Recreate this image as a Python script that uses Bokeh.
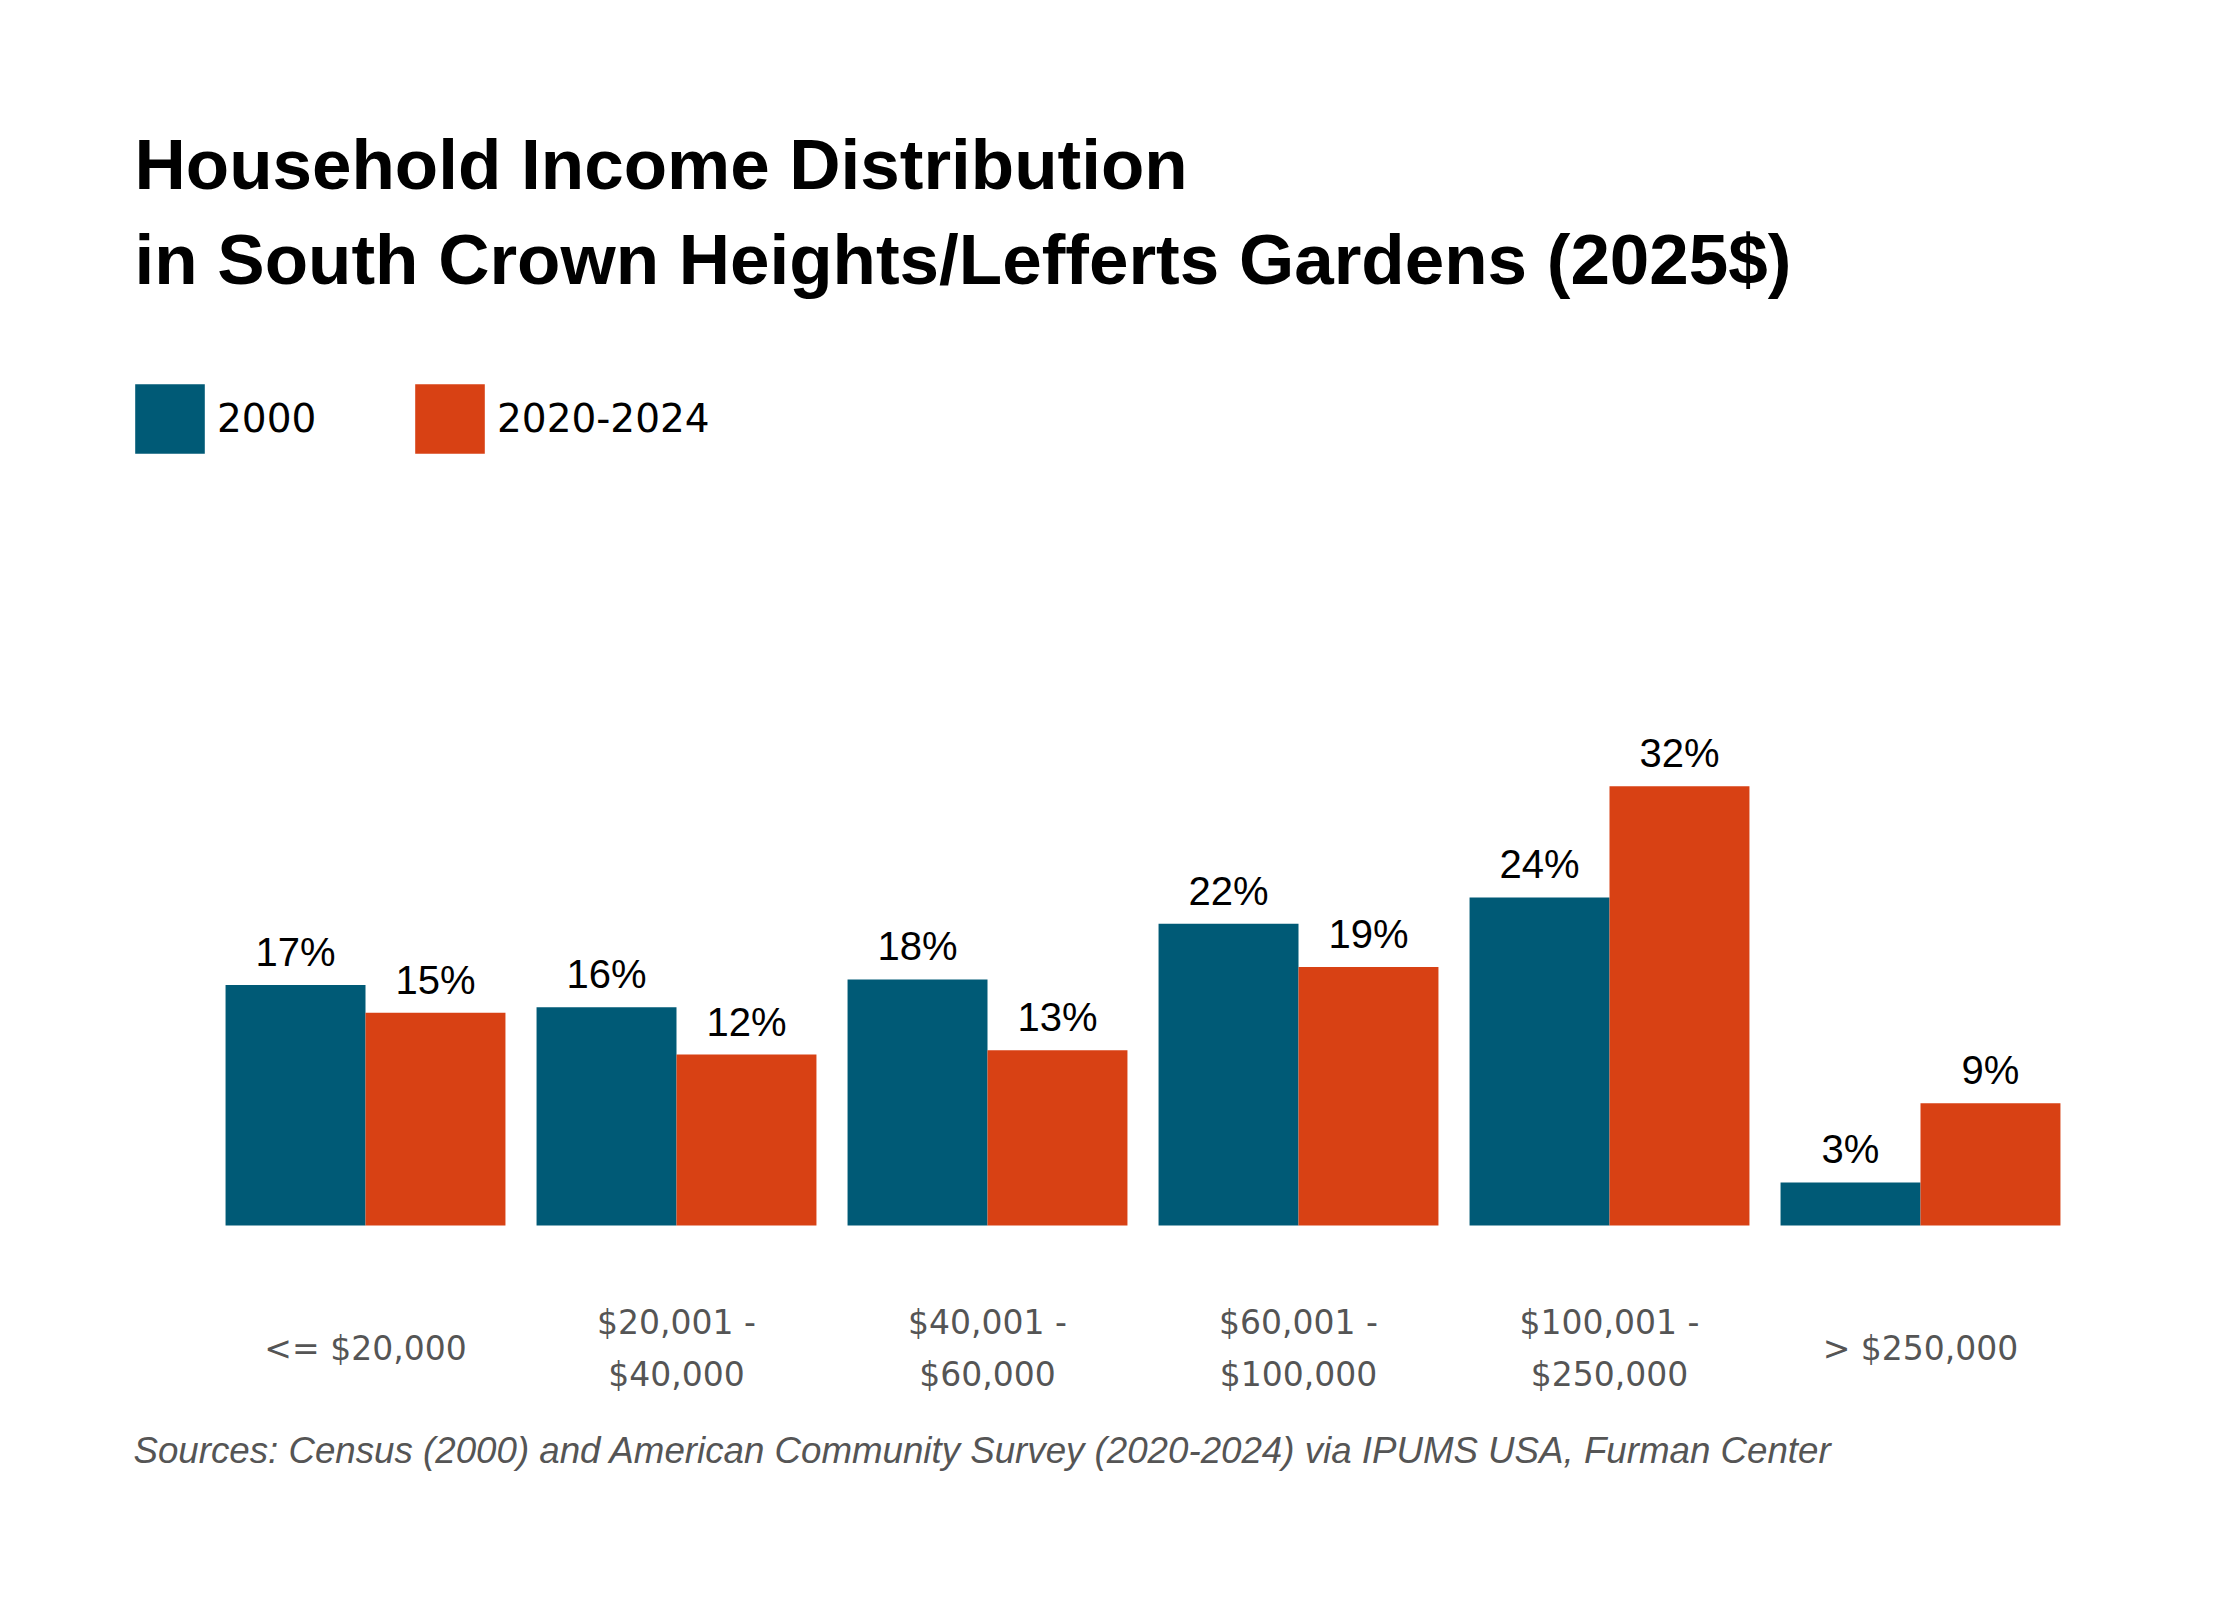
from bokeh.plotting import figure
from bokeh.models import ColumnDataSource, FactorRange, Range1d, Label, Legend, LegendItem
from bokeh.transform import dodge
from bokeh.core.properties import value
from bokeh.embed import file_html
from bokeh.resources import INLINE

# income brackets, two-line tick labels
brackets = ["<= $20,000", "$20,001 - $40,000", "$40,001 - $60,000",
            "$60,001 - $100,000", "$100,001 - $250,000", "> $250,000"]
bracket_labels = ["<= $20,000", "$20,001 -\n$40,000", "$40,001 -\n$60,000",
                  "$60,001 -\n$100,000", "$100,001 -\n$250,000", "> $250,000"]

# share of households (%)
share_2000 = [17.3, 15.7, 17.7, 21.7, 23.6, 3.1]
share_2020_2024 = [15.3, 12.3, 12.6, 18.6, 31.6, 8.8]

series = ["2000", "2020-2024"]
colors = ["#005a76", "#d84114"]

title_lines = ["Household Income Distribution",
               "in South Crown Heights/Lefferts Gardens (2025$)"]
source_note = ("Sources: Census (2000) and American Community Survey (2020-2024) "
               "via IPUMS USA, Furman Center")

W, H = 2224, 1584
base_px = 1225      # bar baseline, px from top
px_per_pct = 13.9
cat_px = 311.0      # width of one bracket on screen
first_center = 365  # centre of first bracket, px from left
left = 71           # frame starts here; titles sit inside the frame

# symmetric padding that puts the first bracket at first_center with the
# frame running from `left` to the right edge
pad = (first_center - left - cat_px / 2) / cat_px
right = W - left - (len(brackets) + 2 * pad) * cat_px

src = ColumnDataSource(data=dict(
    bracket=brackets,
    s2000=share_2000,
    s2024=share_2020_2024,
    l2000=["%d%%" % round(v) for v in share_2000],
    l2024=["%d%%" % round(v) for v in share_2020_2024],
    ticks=bracket_labels,
    zero=[0] * len(brackets),
))

p = figure(x_range=FactorRange(*brackets, range_padding=pad,
                               range_padding_units="absolute"),
           y_range=Range1d(-(H - base_px) / px_per_pct, base_px / px_per_pct),
           width=W, height=H, output_backend="svg", toolbar_location=None,
           min_border=0, min_border_left=left, min_border_right=int(round(right)))
p.axis.visible = False
p.grid.visible = False
p.outline_line_color = None
p.background_fill_color = "white"
p.border_fill_color = "white"

bw = 0.45
r1 = p.vbar(x=dodge("bracket", -bw / 2, range=p.x_range), top="s2000", width=bw,
            source=src, color=colors[0], line_color=None)
r2 = p.vbar(x=dodge("bracket", bw / 2, range=p.x_range), top="s2024", width=bw,
            source=src, color=colors[1], line_color=None)

# value labels
for col, lab, off in [("s2000", "l2000", -bw / 2), ("s2024", "l2024", bw / 2)]:
    p.text(x=dodge("bracket", off, range=p.x_range), y=col, text=lab, source=src,
           y_offset=-33, text_align="center", text_baseline="alphabetic",
           text_font=value("Liberation Sans"), text_font_size="40px",
           text_color="black")

# category labels under the bars
p.text(x="bracket", y="zero", text="ticks", source=src, y_offset=123,
       text_align="center", text_baseline="middle", text_line_height=1.33,
       text_font=value("DejaVu Sans"), text_font_size="33px", text_color="#555555")

# legend (area glyphs are drawn 10% inset in the legend box)
legend = Legend(items=[LegendItem(label=series[0], renderers=[r1]),
                       LegendItem(label=series[1], renderers=[r2])],
                orientation="horizontal", location=(126 - left, 1122),
                glyph_width=87, glyph_height=87, label_standoff=4,
                label_width=189, spacing=0, padding=0, margin=0,
                border_line_color=None, background_fill_alpha=0,
                label_text_font="DejaVu Sans", label_text_font_size="39px",
                label_text_color="black")
p.add_layout(legend, "center")

# titles and note (screen units relative to the frame)
for txt, y in zip(title_lines, [1420, 1325]):
    p.add_layout(Label(x=134 - left, y=y, x_units="screen", y_units="screen",
                       text=txt, text_font="Liberation Sans", text_font_style="bold",
                       text_font_size="71px", text_color="black",
                       text_baseline="alphabetic"))
p.add_layout(Label(x=133 - left, y=134, x_units="screen", y_units="screen",
                   text=source_note, text_font="Liberation Sans",
                   text_font_style="italic", text_font_size="36.7px",
                   text_color="#555555", text_baseline="alphabetic"))

open("out.html", "w").write(file_html(p, INLINE))
